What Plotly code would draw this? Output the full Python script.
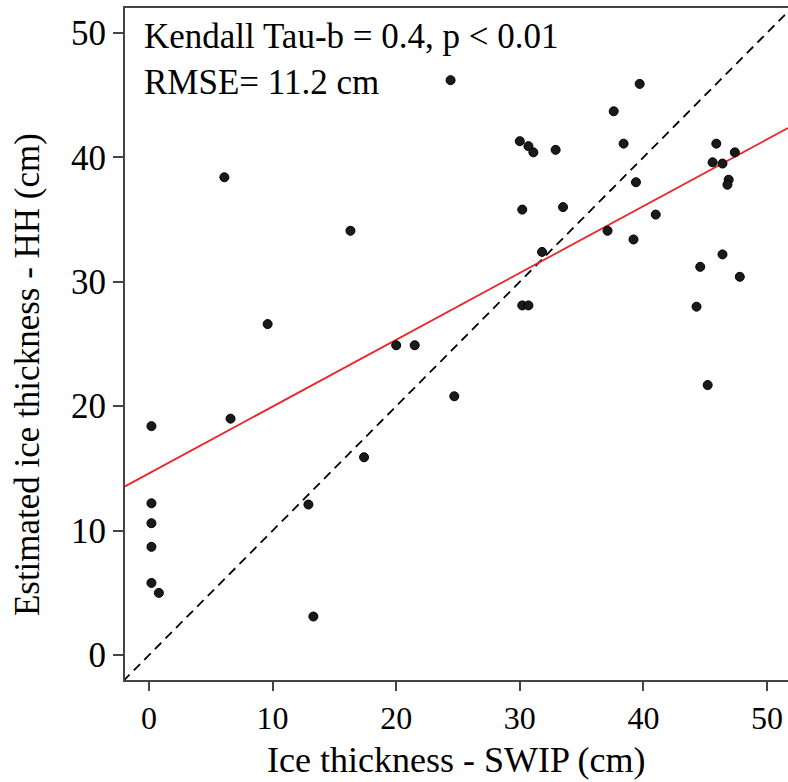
import plotly.graph_objects as go

swip = [24.4, 6.1, 16.3, 9.6, 20.0, 21.5,
        39.7, 37.6, 30.0, 30.7, 31.1, 32.9, 38.4, 45.9, 47.4, 45.6, 46.4, 46.9, 46.8,
        39.4, 30.2, 33.5, 41.0, 37.1, 39.2, 31.8, 46.4, 44.6, 47.8, 30.2, 30.7, 44.3,
        0.2, 6.6, 24.7, 17.4, 0.2, 0.2, 0.2, 12.9, 0.2, 0.8, 13.3, 45.2]
hh = [46.2, 38.4, 34.1, 26.6, 24.9, 24.9,
      45.9, 43.7, 41.3, 40.9, 40.4, 40.6, 41.1, 41.1, 40.4, 39.6, 39.5, 38.2, 37.8,
      38.0, 35.8, 36.0, 35.4, 34.1, 33.4, 32.4, 32.2, 31.2, 30.4, 28.1, 28.1, 28.0,
      18.4, 19.0, 20.8, 15.9, 12.2, 10.6, 8.7, 12.1, 5.8, 5.0, 3.1, 21.7]

fit_intercept = 14.6
fit_slope = 0.537
x_range = [-1.94, 51.7]
y_range = [-2.0, 52.0]
tick_vals = [0, 10, 20, 30, 40, 50]

FONT = "Liberation Serif"

fig = go.Figure()

# 1:1 line
fig.add_trace(go.Scatter(
    x=[x_range[0] - 1, 60], y=[x_range[0] - 1, 60], mode="lines",
    line=dict(color="black", width=1.8, dash="9px,6px"), hoverinfo="skip"))

# regression line
fig.add_trace(go.Scatter(
    x=x_range, y=[fit_intercept + fit_slope * v for v in x_range], mode="lines",
    line=dict(color="#e8262b", width=1.8), hoverinfo="skip"))

fig.add_trace(go.Scatter(
    x=swip, y=hh, mode="markers",
    marker=dict(size=9, color="#1a1a1a", line=dict(color="black", width=1))))

axis_common = dict(
    showgrid=False, zeroline=False, showline=True, linecolor="#444444", linewidth=2,
    ticks="outside", tickwidth=1.5, tickcolor="#444444",
    tickvals=tick_vals,
)

fig.update_layout(
    width=788, height=782,
    margin=dict(l=125, r=0, t=8, b=102),
    paper_bgcolor="white", plot_bgcolor="white",
    showlegend=False,
    font=dict(family=FONT, color="black"),
    xaxis=dict(range=x_range, mirror=True, ticklen=9,
               tickfont=dict(family=FONT, size=32, color="black"), **axis_common),
    yaxis=dict(range=y_range, ticklen=10,
               tickfont=dict(family=FONT, size=35, color="black"), **axis_common),
    annotations=[
        dict(text="Kendall Tau-b = 0.4, p < 0.01<br>RMSE= 11.2 cm",
             xref="paper", yref="paper", x=0.026, y=0.99, xanchor="left", yanchor="top",
             align="left", showarrow=False, font=dict(family=FONT, size=35, color="black")),
        dict(text="Estimated ice thickness - HH (cm)",
             xref="paper", yref="paper", x=-0.146, y=0.454, xanchor="center", yanchor="middle",
             textangle=-90, showarrow=False, font=dict(family=FONT, size=35, color="black")),
        dict(text="Ice thickness - SWIP (cm)",
             xref="paper", yref="paper", x=0.5, y=0, xanchor="center", yanchor="bottom",
             yshift=-102, showarrow=False, font=dict(family=FONT, size=36, color="black")),
    ],
)

fig.write_html("out.html")
